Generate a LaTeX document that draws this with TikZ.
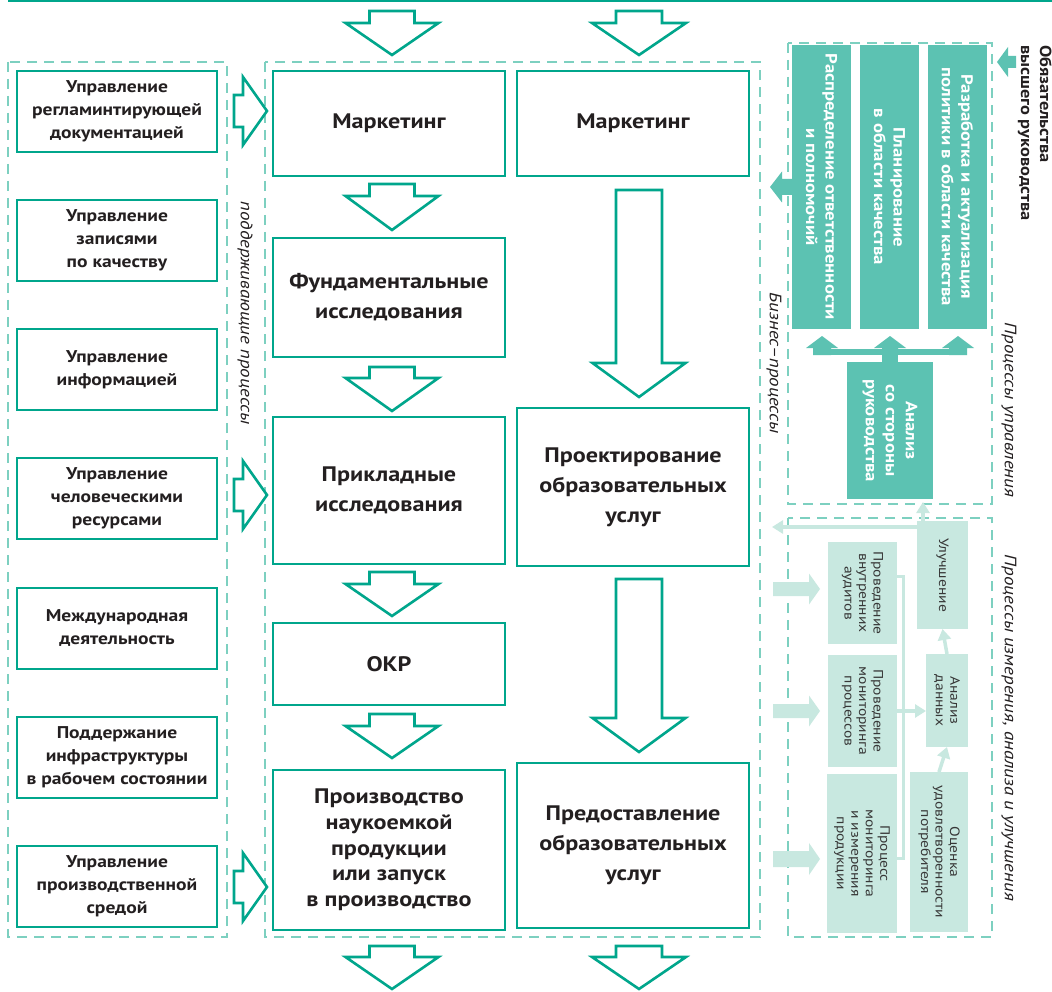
\documentclass[tikz,border=0pt]{standalone}
\usepackage{fontspec}
\setmainfont{PT Sans}[FakeStretch=1.15]
\usetikzlibrary{arrows.meta}
\definecolor{tealA}{RGB}{0,166,140}
\definecolor{tealD}{RGB}{92,194,178}
\definecolor{tealDash}{RGB}{125,208,192}
\definecolor{tealL}{RGB}{200,232,224}
\definecolor{ink}{RGB}{35,31,32}
\definecolor{inkL}{RGB}{55,55,55}
\newcommand\DBlk[7]{\draw[#7] ({#1-#5},#2) -- ({#1+#5},#2) -- ({#1+#5},#3) -- ({#1+#6},#3) -- (#1,#4) -- ({#1-#6},#3) -- ({#1-#5},#3) -- cycle;}
\newcommand\RBlk[7]{\draw[#7] (#1,{#4-#5}) -- (#2,{#4-#5}) -- (#2,{#4-#6}) -- (#3,#4) -- (#2,{#4+#6}) -- (#2,{#4+#5}) -- (#1,{#4+#5}) -- cycle;}
\tikzset{
 box/.style={draw=tealA, line width=2.6pt, fill=white, inner sep=0pt, outer sep=0pt, align=center, text=ink},
 lbox/.style={box, minimum width=200pt, minimum height=81pt, font=\fontsize{17}{23}\selectfont\bfseries},
 mbox/.style={box, minimum width=232pt, font=\fontsize{21}{30}\selectfont\bfseries},
 dbox/.style={fill=tealD, inner sep=0pt, outer sep=0pt, align=center, text=white, font=\fontsize{16.3}{19.5}\selectfont\bfseries, rotate=-90},
 ltbox/.style={fill=tealL, inner sep=0pt, outer sep=0pt, align=center, text=inkL, font=\fontsize{13.5}{14.5}\selectfont, rotate=-90},
 cont/.style={draw=tealDash, line width=2.6pt, dash pattern=on 10pt off 7pt},
 hollow/.style={draw=tealA, line width=2.6pt, fill=white, line join=miter},
 dfill/.style={fill=tealD, draw=none},
 lfill/.style={fill=tealL, draw=none},
 lline/.style={draw=tealL, line width=3.5pt},
 larrow/.style={lline, -{Triangle[width=13pt,length=11pt]}},
 lab/.style={font=\fontsize{16.5}{19}\selectfont\itshape, text=ink, rotate=-90, inner sep=0pt},
}
\begin{document}
\begin{tikzpicture}[x=1pt,y=-1pt]
\useasboundingbox (0,0) rectangle (1052,992);
\fill[white] (0,0) rectangle (1052,992);
% top rule
\coordinate (tl) at (8,1);
\coordinate (tr) at (1052,1);
\draw[tealA, line width=2pt] (tl) -- (tr);
% dashed containers
\draw[cont] (8,62) rectangle (227,937);
\draw[cont] (265,62) rectangle (760,937);
\draw[cont] (788,43) rectangle (992,504);
\draw[cont] (788,518) rectangle (992,937);
% container labels
\node[lab] (lsup) at (245,313) {поддерживающие процессы};
\node[lab] (lbiz) at (774,363) {Бизнес--процессы};
\node[lab] (lupr) at (1009,410) {Процессы управления};
\node[lab] (lizm) at (1009,728) {Процессы измерения, анализа и улучшения};
% left boxes
\node[lbox] (s1) at (117,111.5) {Управление\\регламинтирующей\\документацией};
\node[lbox] (s2) at (117,240.5) {Управление\\записями\\по качеству};
\node[lbox] (s3) at (117,369.5) {Управление\\информацией};
\node[lbox] (s4) at (117,498.5) {Управление\\человеческими\\ресурсами};
\node[lbox] (s5) at (117,628.5) {Международная\\деятельность};
\node[lbox] (s6) at (117,757.5) {Поддержание\\инфраструктуры\\в рабочем состоянии};
\node[lbox] (s7) at (117,886.5) {Управление\\производственной\\средой};
% left hollow arrows
\RBlk{234}{243}{267}{111}{16}{34}{hollow}
\RBlk{234}{243}{267}{495}{16}{34}{hollow}
\RBlk{234}{243}{267}{887}{16}{34}{hollow}
% main column 1
\node[mbox, minimum height=105pt] (m1) at (389,123.5) {Маркетинг};
\node[mbox, minimum height=119pt] (m2) at (389,297.5) {Фундаментальные\\исследования};
\node[mbox, minimum height=147pt] (m3) at (389,490.5) {Прикладные\\исследования};
\node[mbox, minimum height=82pt] (m4) at (389,664) {ОКР};
\node[mbox, minimum height=160pt, font=\fontsize{21}{25.7}\selectfont\bfseries] (m5) at (389,850) {Производство\\наукоемкой\\продукции\\или запуск\\в производство};
% main column 2
\node[mbox, minimum height=105pt] (n1) at (633,123.5) {Маркетинг};
\node[mbox, minimum height=158pt] (n2) at (633,487) {Проектирование\\образовательных\\услуг};
\node[mbox, minimum height=165pt] (n3) at (633,845.5) {Предоставление\\образовательных\\услуг};
% column 1 hollow arrows
\DBlk{392}{11}{23}{55}{22.5}{46.5}{hollow}
\DBlk{392}{184}{196}{230}{22.5}{46.5}{hollow}
\DBlk{392}{367}{378}{411}{22.5}{46.5}{hollow}
\DBlk{392}{572}{584}{616}{22.5}{46.5}{hollow}
\DBlk{392}{714}{726}{758}{22.5}{46.5}{hollow}
\DBlk{392}{946}{957}{989}{22.5}{46.5}{hollow}
% column 2 hollow arrows
\DBlk{639}{11}{23}{55}{23}{47}{hollow}
\DBlk{639}{190}{363}{397}{23}{46.5}{hollow}
\DBlk{639}{579}{718}{752}{23}{46.5}{hollow}
\DBlk{639}{946}{957}{989}{23}{47}{hollow}
% management processes
\node[dbox, minimum width=284pt, minimum height=59pt] (dA) at (821.5,187) {Распределение ответственности\\и полномочий};
\node[dbox, minimum width=284pt, minimum height=59pt] (dB) at (889.5,187) {Планирование\\в области качества};
\node[dbox, minimum width=284pt, minimum height=59pt] (dC) at (957.5,187) {Разработка и актуализация\\политики в области качества};
\node[dbox, minimum width=137pt, minimum height=86pt, font=\fontsize{16.3}{20}\selectfont\bfseries] (dAn) at (890,430.5) {Анализ\\со стороны\\руководства};
% up arrows from analysis
\fill[tealD] (813,349) rectangle (967,355);
\fill[tealD] (882,346) rectangle (898,362);
\DBlk{822}{355}{348}{336}{9}{16}{dfill}
\DBlk{890}{355}{348}{336}{8}{16}{dfill}
\DBlk{958}{355}{348}{336}{9}{16}{dfill}
% left dark arrow from distribution box
\RBlk{793}{782}{770}{187}{8}{15.5}{dfill}
% top commitment arrow and text
\RBlk{1016}{1008}{997}{62}{6}{15}{dfill}
\node[rotate=-90, anchor=north west, align=left, inner sep=0pt, text=ink, font=\fontsize{16}{19}\selectfont\bfseries] (obz) at (1052,45) {Обязательства\\высшего руководства};
% measurement processes
\node[ltbox, minimum width=108pt, minimum height=51pt] (lI) at (942.5,575) {Улучшение};
\node[ltbox, minimum width=93pt, minimum height=42pt] (lA) at (947,700.5) {Анализ\\данных};
\node[ltbox, minimum width=160pt, minimum height=58pt] (lO) at (939,852) {Оценка\\удовлетворенности\\потребителя};
\node[ltbox, minimum width=102pt, minimum height=69pt] (lP1) at (862.5,593) {Проведение\\внутренних\\аудитов};
\node[ltbox, minimum width=112pt, minimum height=69pt] (lP2) at (862.5,711) {Проведение\\мониторинга\\процессов};
\node[ltbox, minimum width=159pt, minimum height=70pt] (lP3) at (862,853.5) {Процесс\\мониторинга\\и измерения\\продукции};
% light block arrows into measurement boxes
\RBlk{773}{809}{820}{589}{7}{15.5}{lfill}
\RBlk{773}{809}{820}{711}{7}{15.5}{lfill}
\RBlk{773}{809}{820}{859}{8}{16}{lfill}
% light connectors
\coordinate (v1) at (903,576);
\coordinate (v3) at (903,858);
\coordinate (h2) at (903,711);
\draw[lline, line width=3pt] (lP1.north |- v1) -- (v1) -- (v3) -- (lP3.north |- v3);
\draw[larrow] (lP2.north |- h2) -- (lA.south |- h2);
\draw[larrow] (lO.west) -- (lA.east);
\draw[larrow] (lA.west) -- (lI.east);
\coordinate (up1) at (923,502);
\draw[larrow] (lI.south east -| up1) -- (up1);
\coordinate (lend) at (772,527);
\draw[larrow] (lI.south east |- lend) -- (lend);
\end{tikzpicture}
\end{document}
